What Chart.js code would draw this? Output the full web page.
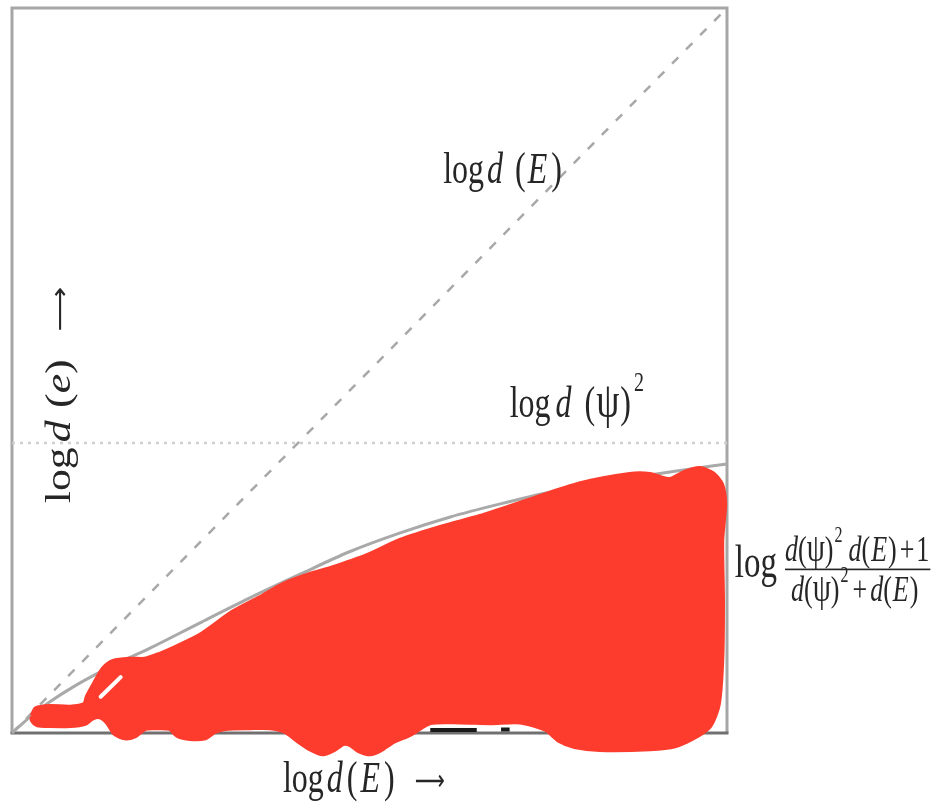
<!DOCTYPE html>
<html>
<head>
<meta charset="utf-8">
<script src="https://cdn.jsdelivr.net/npm/chart.js@4.4.1/dist/chart.umd.min.js"></script>
<style>
  html, body { margin: 0; padding: 0; background: #fff; }
  #wrap { width: 944px; height: 803px; position: relative; }
</style>
</head>
<body>
<div id="wrap"><canvas id="chart"></canvas></div>
<script>
// values, both axes on a 0..100 scale
const diagX = [0, 100];
const diagY = [0, 100];
const psiLevelX = [0, 100];
const psiLevelY = [40, 40];

const curveX = [0, 2.5, 5.3, 8.8, 12.3, 15.8, 19.3, 26.3, 33.2, 40.3, 47.2, 54.3, 61.3, 68.3, 75.2, 82.2, 89.2, 96.2, 100];
const curveY = [0, 2.2, 4.3, 6.5, 8.4, 10.1, 11.7, 15.2, 18.6, 21.9, 25.0, 27.6, 29.8, 31.6, 33.2, 34.5, 35.6, 36.6, 37.1];

// outline of the red sample cloud
const redX = [2.9, 3.4, 5.3, 8.1, 10.2, 10.6, 11.6, 12.8, 14.2, 16.5, 18.6, 20.7, 22.8, 26.3, 30.9, 34.7, 37.9, 41.7, 44.5, 49.7,
  54.3, 60.3, 65.5, 72.5, 79.4, 86.4, 89.2, 92.0, 94.1, 96.2, 98.0, 99.2, 99.6, 99.2, 99.3, 99.2, 98.7, 97.6, 95.8, 92.7,
  89.2, 82.2, 78.7, 76.6, 74.6, 71.1, 66.9, 62.7, 58.5, 55.7, 53.3, 51.5, 50.1, 48.4, 47.3, 46.3, 44.9, 43.5, 41.7, 40.0,
  38.2, 36.1, 33.3, 29.8, 28.4, 27.0, 24.9, 23.2, 22.1, 20.0, 18.6, 17.2, 15.8, 14.4, 13.4, 12.3, 11.2, 10.2, 8.1, 5.3,
  3.6, 2.9, 2.9];
const redY = [2.3, 3.3, 3.6, 3.5, 3.9, 5.0, 6.8, 8.8, 9.8, 10.1, 10.1, 10.8, 11.7, 13.4, 16.6, 18.6, 20.4, 21.8, 22.6, 24.4,
  26.5, 28.4, 29.8, 32.1, 34.3, 35.6, 35.6, 34.9, 35.9, 36.4, 35.7, 34.2, 31.5, 26.6, 18.3, 10.1, 3.9, 1.1, -0.3, -1.7,
  -2.1, -2.2, -1.8, -1.0, 0.6, 1.6, 1.5, 1.6, 1.5, -0.1, -1.1, -2.3, -2.8, -2.3, -1.5, -1.4, -2.3, -2.8, -2.1, -1.0,
  0.3, 0.8, 0.8, 0.7, 0.3, -0.6, -0.7, -0.3, 0.7, 0.8, 0.7, -0.3, -0.6, 0.0, 1.5, 2.3, 2.1, 1.4, 1.1, 1.1,
  1.2, 1.8, 2.3];

// gap inside the small loop at the left
const gapX = [12.4, 15.2];
const gapY = [5.0, 7.7];

// dark samples on the bottom axis
const darkX = [58.5, 65.0, 66.0, 68.4, 69.6];
const darkY = [0.4, 0.4, null, 0.5, 0.5];

const pts = (xs, ys) => xs.map((x, i) => ({ x: x, y: ys[i] }));

const SERIF = '"Liberation Serif", "DejaVu Serif", serif';
const ARROWFONT = '"DejaVu Sans", sans-serif';
const INK = '#262626';
const STRETCH = 1.38;

function drawParts(ctx, parts, size) {
  let cx = 0;
  for (const p of parts) {
    cx += p.gap || 0;
    const s = Math.round(size * (p.s || 1));
    ctx.font = (p.it ? 'italic ' : '') + s + 'px ' + (p.f || SERIF);
    ctx.fillText(p.t, cx, p.dy ? p.dy * size : 0);
    cx += ctx.measureText(p.t).width;
  }
  return cx;
}

const labelsPlugin = {
  id: 'mathLabels',
  beforeDatasetsDraw(chart) {
    const { ctx, scales: { x, y } } = chart;
    const l = x.getPixelForValue(0), r = x.getPixelForValue(100);
    const t = y.getPixelForValue(100), b = y.getPixelForValue(0);
    ctx.save();
    ctx.lineWidth = 3;
    ctx.strokeStyle = '#a6a6a6';
    ctx.beginPath();
    ctx.moveTo(l, b); ctx.lineTo(l, t); ctx.lineTo(r, t); ctx.lineTo(r, b);
    ctx.stroke();
    ctx.strokeStyle = '#707070';
    ctx.beginPath();
    ctx.moveTo(l - 1.5, b); ctx.lineTo(r + 1.5, b);
    ctx.stroke();
    ctx.restore();
  },
  afterDatasetsDraw(chart) {
    const { ctx, scales: { x, y } } = chart;
    const at = (vx, vy) => [x.getPixelForValue(vx), y.getPixelForValue(vy)];
    ctx.save();
    ctx.fillStyle = INK;
    ctx.textBaseline = 'alphabetic';

    const horiz = (vx, vy, parts, size) => {
      const [px, py] = at(vx, vy);
      ctx.save();
      ctx.translate(px, py);
      ctx.scale(1, STRETCH);
      drawParts(ctx, parts, size);
      ctx.restore();
    };

    // log d(E) along the diagonal
    horiz(60.3, 75.9, [
      { t: 'log' }, { t: 'd', it: true, gap: 3 }, { t: '(', gap: 12 }, { t: 'E', it: true, gap: 2 }, { t: ')', gap: 4 }
    ], 32);

    // log d(psi)^2 above the dotted level
    horiz(69.6, 43.6, [
      { t: 'log' }, { t: 'd', it: true, gap: 5 }, { t: '(', gap: 13 }, { t: 'ψ', s: 1.15, gap: 1 }, { t: ')', gap: 1 },
      { t: '2', s: 0.62, dy: -0.58, gap: 3 }
    ], 32);

    // x axis title
    horiz(37.9, -8.1, [
      { t: 'log' }, { t: 'd', it: true, gap: 3 }, { t: '(', gap: 4 }, { t: 'E', it: true, gap: 3 }, { t: ')', gap: 4 },
      { t: '⟶', f: ARROWFONT, s: 0.65, dy: -0.05, gap: 20 }
    ], 32);

    // y axis title, reading upwards
    {
      const [px, py] = at(8.1, 31.7);
      ctx.save();
      ctx.translate(px, py);
      ctx.rotate(-Math.PI / 2);
      ctx.scale(1.25, 1);
      drawParts(ctx, [
        { t: 'log' }, { t: 'd', it: true, gap: 4 }, { t: '(', gap: 10 }, { t: 'e', it: true }, { t: ')' },
        { t: '⟶', f: ARROWFONT, s: 0.72, dy: -0.05, gap: 22 }
      ], 35);
      ctx.restore();
    }

    // log of the ratio, right of the frame
    {
      const [px, py] = at(101.1, 21.5);
      ctx.save();
      ctx.translate(px, py);
      ctx.scale(1, STRETCH);
      const logW = drawParts(ctx, [{ t: 'log' }], 33);
      const fx = logW + 8;
      const fs = 26;
      ctx.save();
      ctx.translate(fx, -11.5);
      const numW = drawParts(ctx, [
        { t: 'd', it: true }, { t: '(' }, { t: 'ψ', s: 1.1 }, { t: ')' }, { t: '2', s: 0.62, dy: -0.55, gap: 1 },
        { t: 'd', it: true, gap: 6 }, { t: '(' }, { t: 'E', it: true, gap: 1 }, { t: ')', gap: 1 }, { t: '+', gap: 3 }, { t: '1', gap: 2 }
      ], fs);
      ctx.restore();
      ctx.fillRect(fx, -6.2, numW + 1, 1.2);
      ctx.save();
      ctx.translate(fx + 6, 17.5);
      drawParts(ctx, [
        { t: 'd', it: true }, { t: '(' }, { t: 'ψ', s: 1.1 }, { t: ')' }, { t: '2', s: 0.62, dy: -0.55, gap: 1 },
        { t: '+', gap: 4 }, { t: 'd', it: true, gap: 3 }, { t: '(' }, { t: 'E', it: true, gap: 1 }, { t: ')', gap: 1 }
      ], fs);
      ctx.restore();
      ctx.restore();
    }
    ctx.restore();
  }
};

new Chart(document.getElementById('chart'), {
  type: 'scatter',
  data: {
    datasets: [
      {
        label: 'gap',
        data: pts(gapX, gapY),
        showLine: true,
        borderColor: '#ffffff',
        borderWidth: 4,
        borderCapStyle: 'round',
        pointRadius: 0
      },
      {
        label: 'samples',
        data: pts(redX, redY),
        showLine: true,
        fill: 'shape',
        backgroundColor: '#fe3c2e',
        borderColor: '#fe3c2e',
        borderWidth: 6,
        borderJoinStyle: 'round',
        tension: 0.25,
        pointRadius: 0
      },
      {
        label: 'dark',
        data: pts(darkX, darkY),
        showLine: true,
        spanGaps: false,
        borderColor: '#1a1a1a',
        borderWidth: 4,
        pointRadius: 0
      },
      {
        label: 'bound',
        data: pts(curveX, curveY),
        showLine: true,
        borderColor: '#a9a9a9',
        borderWidth: 3,
        tension: 0.3,
        pointRadius: 0
      },
      {
        label: 'log d(E)',
        data: pts(diagX, diagY),
        showLine: true,
        borderColor: '#a8a8a8',
        borderWidth: 2.5,
        borderDash: [9, 11],
        pointRadius: 0
      },
      {
        label: 'log d(psi)^2',
        data: pts(psiLevelX, psiLevelY),
        showLine: true,
        borderColor: '#cfcfcf',
        borderWidth: 2.5,
        borderDash: [3, 5],
        pointRadius: 0
      }
    ]
  },
  options: {
    responsive: true,
    maintainAspectRatio: false,
    animation: false,
    events: [],
    layout: { padding: 0 },
    plugins: { legend: { display: false }, tooltip: { enabled: false } },
    scales: {
      x: { type: 'linear', min: -1.678, max: 130.35, display: false },
      y: { type: 'linear', min: -9.655, max: 101.103, display: false }
    }
  },
  plugins: [labelsPlugin]
});
</script>
</body>
</html>
